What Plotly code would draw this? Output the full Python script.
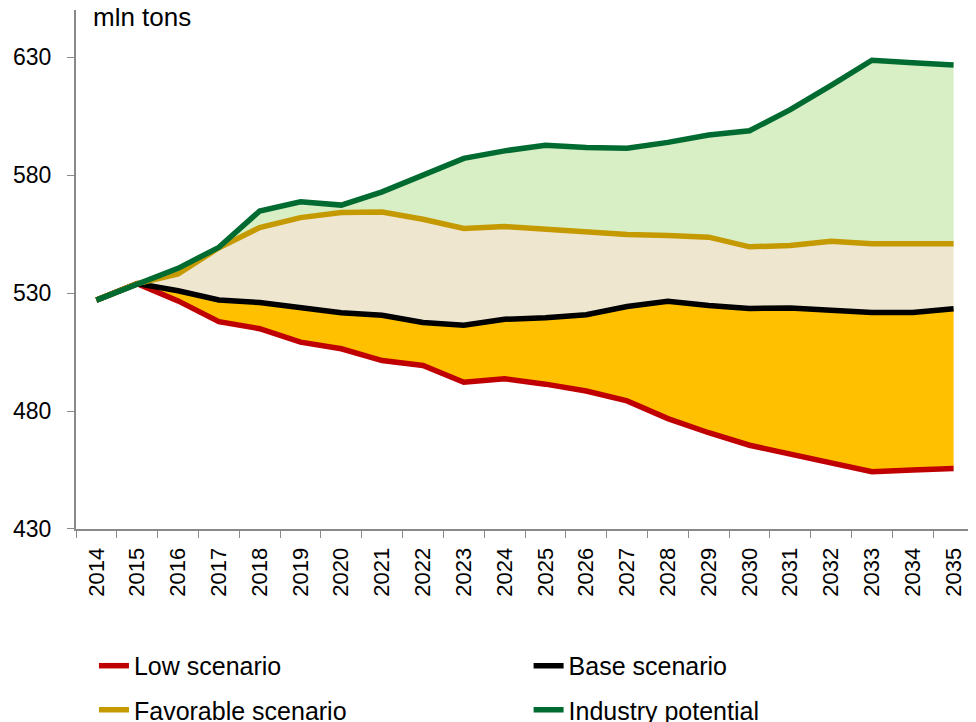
import plotly.graph_objects as go

years = [str(y) for y in range(2014, 2036)]

low = [527, 534, 526.7, 517.9, 514.9, 509.2, 506.4, 501.4, 499.3, 492.2, 493.7, 491.4,
       488.5, 484.3, 476.8, 470.8, 465.5, 461.7, 458.1, 454.3, 455.0, 455.6]
base = [527, 534, 531.0, 527.1, 526.0, 523.9, 521.7, 520.6, 517.5, 516.4, 518.9, 519.6,
        520.8, 524.3, 526.5, 524.7, 523.5, 523.7, 523.0, 521.8, 521.8, 523.4]
favorable = [527, 534, 538.1, 549.2, 557.8, 562.0, 564.2, 564.4, 561.3, 557.4, 558.2, 557.1,
             555.8, 554.8, 554.4, 553.7, 549.6, 550.2, 552.0, 550.9, 550.9, 550.9]
potential = [527, 534, 540.5, 549.4, 564.8, 568.7, 567.3, 572.9, 580.1, 587.1, 590.3, 592.7,
             591.7, 591.4, 593.9, 597.0, 598.8, 607.8, 618.1, 628.7, 627.7, 626.7]

names = ['Low scenario', 'Base scenario', 'Favorable scenario', 'Industry potential']
series = [low, base, favorable, potential]
line_colors = ['#C00000', '#000000', '#C49A00', '#006B30']
fill_colors = [None, '#FFC000', '#EFE6D0', '#D8EEC4']

fig = go.Figure()

# filled bands between the scenario lines
for vals, fc in zip(series, fill_colors):
    fig.add_trace(go.Scatter(x=years, y=vals, mode='lines', line=dict(width=0),
                             fill='tonexty' if fc else None, fillcolor=fc,
                             showlegend=False, hoverinfo='skip'))

legend_ids = ['legend', 'legend2', 'legend3', 'legend4']
for vals, name, lc, lg in zip(series, names, line_colors, legend_ids):
    fig.add_trace(go.Scatter(x=years, y=vals, mode='lines', name=name,
                             line=dict(color=lc, width=5.5), legend=lg))

font = 'Liberation Sans, Arial, sans-serif'
leg = dict(font=dict(family=font, size=25, color='black'), bgcolor='rgba(0,0,0,0)',
           xanchor='left', yanchor='middle')

# the page body adds an 8px offset, so the layout is shifted up/left by 8px
fig.update_layout(
    width=976, height=722,
    margin=dict(l=68, r=10, t=0, b=0, autoexpand=False),
    plot_bgcolor='white', paper_bgcolor='white',
    font=dict(family=font, size=23, color='black'),
    legend=dict(leg, x=0.02, y=0.0887),
    legend2=dict(leg, x=0.504, y=0.0887),
    legend3=dict(leg, x=0.02, y=0.0277),
    legend4=dict(leg, x=0.504, y=0.0277),
    annotations=[dict(text='mln tons', xref='paper', yref='paper', x=0.017, y=0.9875,
                      xanchor='left', yanchor='middle', showarrow=False,
                      font=dict(family=font, size=26, color='black'))],
)
fig.update_xaxes(type='category', range=[-0.5, 21.5], tickangle=-90, automargin=False,
                 showline=True, linecolor='#898989', linewidth=2,
                 ticks='outside', tickson='boundaries', ticklen=7, tickcolor='#898989',
                 ticklabelstandoff=8, showgrid=False, tickfont=dict(size=22))
fig.update_yaxes(range=[430, 650], tickvals=[430, 480, 530, 580, 630], automargin=False,
                 domain=[0.2784, 0.9972],
                 showline=True, linecolor='#898989', linewidth=2,
                 ticks='outside', ticklen=7, tickcolor='#898989', ticklabelstandoff=11,
                 showgrid=False, zeroline=False, tickfont=dict(size=23))

fig.write_html('out.html')
